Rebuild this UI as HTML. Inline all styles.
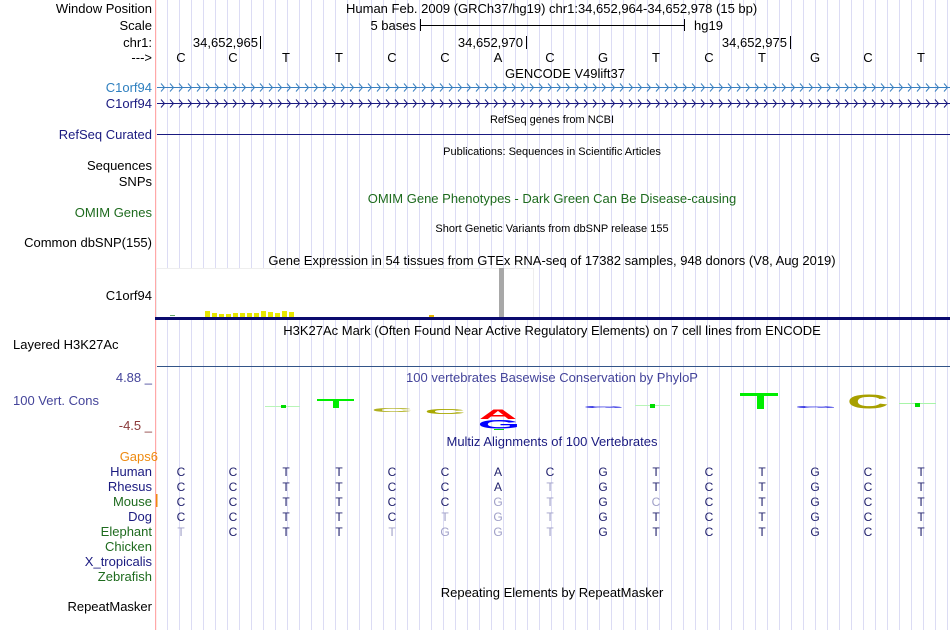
<!DOCTYPE html>
<html><head><meta charset="utf-8"><style>
html,body{margin:0;padding:0;background:#fff;}
svg{display:block;}
text{font-family:"Liberation Sans",Arial,sans-serif;}
</style></head><body>
<svg width="950" height="630" viewBox="0 0 950 630" xmlns="http://www.w3.org/2000/svg">
<defs>
<pattern id="grid" x="167" y="0" width="12" height="630" patternUnits="userSpaceOnUse">
<rect x="0" y="0" width="1" height="630" fill="#dcdcf4"/>
</pattern>
<pattern id="chevA" x="158" y="83" width="9" height="9" patternUnits="userSpaceOnUse">
<path d="M3,0.5 L6.5,4.5 L3,8.5" fill="none" stroke="#3a80c0" stroke-width="1"/>
</pattern>
<pattern id="chevB" x="158" y="99" width="9" height="9" patternUnits="userSpaceOnUse">
<path d="M3,0.5 L6.5,4.5 L3,8.5" fill="none" stroke="#1a1a80" stroke-width="1"/>
</pattern>
</defs>
<rect width="950" height="630" fill="#fff"/>
<rect x="160" y="0" width="790" height="630" fill="url(#grid)"/>
<rect x="155" y="0" width="1.2" height="630" fill="#ffa8a8"/>

<!-- header -->
<g font-size="13" fill="#000">
<text x="152" y="13" text-anchor="end">Window Position</text>
<text x="152" y="30" text-anchor="end">Scale</text>
<text x="152" y="47" text-anchor="end">chr1:</text>
<text x="152" y="62" text-anchor="end">---&gt;</text>
<text x="346" y="13">Human Feb. 2009 (GRCh37/hg19)   chr1:34,652,964-34,652,978 (15 bp)</text>
<text x="416" y="30" text-anchor="end">5 bases</text>
<text x="694" y="30">hg19</text>
<text x="258" y="47" text-anchor="end">34,652,965</text>
<text x="523" y="47" text-anchor="end">34,652,970</text>
<text x="787" y="47" text-anchor="end">34,652,975</text>
</g>
<rect x="420" y="25" width="264" height="1" fill="#000"/>
<rect x="420" y="19" width="1" height="12" fill="#000"/>
<rect x="684" y="19" width="1" height="12" fill="#000"/>
<rect x="260" y="36" width="1" height="13" fill="#000"/>
<rect x="526" y="36" width="1" height="13" fill="#000"/>
<rect x="790" y="36" width="1" height="13" fill="#000"/>
<g font-size="13" fill="#000" text-anchor="middle">
<text x="181" y="62">C</text><text x="233" y="62">C</text><text x="286" y="62">T</text><text x="339" y="62">T</text><text x="392" y="62">C</text><text x="445" y="62">C</text><text x="498" y="62">A</text><text x="550" y="62">C</text><text x="603" y="62">G</text><text x="656" y="62">T</text><text x="709" y="62">C</text><text x="762" y="62">T</text><text x="815" y="62">G</text><text x="868" y="62">C</text><text x="921" y="62">T</text>
</g>
<text x="565" y="78" font-size="13" text-anchor="middle">GENCODE V49lift37</text>

<!-- genes -->
<text x="152" y="92" font-size="13" text-anchor="end" fill="#2e7fbf">C1orf94</text>
<text x="152" y="108" font-size="13" text-anchor="end" fill="#1a1a80">C1orf94</text>
<rect x="157" y="87" width="793" height="1" fill="#3a80c0"/>
<rect x="157" y="83" width="793" height="9" fill="url(#chevA)"/>
<rect x="157" y="103" width="793" height="1" fill="#1a1a80"/>
<rect x="157" y="99" width="793" height="9" fill="url(#chevB)"/>

<text x="552" y="123" font-size="11" text-anchor="middle">RefSeq genes from NCBI</text>
<text x="152" y="139" font-size="13" text-anchor="end" fill="#1a1a80">RefSeq Curated</text>
<rect x="157" y="134" width="793" height="1" fill="#1a1a80"/>

<text x="552" y="155" font-size="11" text-anchor="middle">Publications: Sequences in Scientific Articles</text>
<text x="152" y="170" font-size="13" text-anchor="end">Sequences</text>
<text x="152" y="186" font-size="13" text-anchor="end">SNPs</text>
<text x="552" y="203" font-size="13" text-anchor="middle" fill="#1e6b1e">OMIM Gene Phenotypes - Dark Green Can Be Disease-causing</text>
<text x="152" y="217" font-size="13" text-anchor="end" fill="#1e6b1e">OMIM Genes</text>
<text x="552" y="232" font-size="11" text-anchor="middle">Short Genetic Variants from dbSNP release 155</text>
<text x="152" y="247" font-size="13" text-anchor="end">Common dbSNP(155)</text>

<!-- GTEx -->
<text x="552" y="265" font-size="13" text-anchor="middle">Gene Expression in 54 tissues from GTEx RNA-seq of 17382 samples, 948 donors (V8, Aug 2019)</text>
<rect x="156.5" y="268.5" width="377" height="49" fill="#fff" stroke="#eeeeee"/>
<text x="152" y="300" font-size="13" text-anchor="end">C1orf94</text>
<rect x="170" y="315" width="5" height="1" fill="#6aa86a"/>
<g fill="#e6e600">
<rect x="205" y="311" width="5" height="6"/><rect x="212" y="313" width="5" height="4"/><rect x="219" y="314" width="5" height="3"/><rect x="226" y="314" width="5" height="3"/><rect x="233" y="313" width="5" height="4"/><rect x="240" y="313" width="5" height="4"/><rect x="247" y="313" width="5" height="4"/><rect x="254" y="313" width="5" height="4"/><rect x="261" y="311" width="5" height="6"/><rect x="268" y="312" width="5" height="5"/><rect x="275" y="313" width="5" height="4"/><rect x="282" y="311" width="5" height="6"/><rect x="289" y="312" width="5" height="5"/>
</g>
<rect x="429" y="315" width="5" height="2" fill="#e6b800"/>
<rect x="499" y="268" width="5" height="49" fill="#a8a8a8"/>
<rect x="155" y="317" width="795" height="3" fill="#0a0a6e"/>

<!-- H3K27Ac -->
<text x="552" y="335" font-size="13" text-anchor="middle">H3K27Ac Mark (Often Found Near Active Regulatory Elements) on 7 cell lines from ENCODE</text>
<text x="13" y="349" font-size="13">Layered H3K27Ac</text>
<rect x="157" y="366" width="793" height="1" fill="#335588"/>

<!-- Conservation -->
<text x="552" y="382" font-size="13" text-anchor="middle" fill="#44449a">100 vertebrates Basewise Conservation by PhyloP</text>
<text x="152" y="382" font-size="13" text-anchor="end" fill="#44449a">4.88 _</text>
<text x="13" y="405" font-size="13" fill="#44449a">100 Vert. Cons</text>
<text x="152" y="430" font-size="13" text-anchor="end" fill="#8b3a3a">-4.5 _</text>

<rect x="265" y="406" width="35" height="1" fill="#b8f5b8"/><rect x="281" y="405" width="5" height="3" fill="#00dd00"/>
<rect x="317" y="399" width="37" height="2" fill="#00ee00"/><rect x="333" y="400" width="6" height="8" fill="#00ee00"/>
<text transform="translate(392,412) scale(2.85,0.28)" font-size="20" font-weight="bold" fill="#b0b020" text-anchor="middle">C</text>
<text transform="translate(445,414) scale(2.85,0.36)" font-size="20" font-weight="bold" fill="#a8a800" text-anchor="middle">C</text>
<text transform="translate(498,419) scale(2.65,0.7)" font-size="20" font-weight="bold" fill="#ff0000" text-anchor="middle">A</text>
<text transform="translate(499,428.5) scale(2.75,0.62)" font-size="20" font-weight="bold" fill="#0000ff" text-anchor="middle">G</text>
<rect x="494" y="429" width="10" height="1" fill="#00dd00"/>
<text transform="translate(604,408) scale(2.7,0.14)" font-size="20" font-weight="bold" fill="#2020e0" text-anchor="middle">G</text>
<rect x="635" y="405" width="35" height="1" fill="#b8f5b8"/><rect x="650" y="404" width="5" height="4" fill="#00dd00"/>
<rect x="740" y="393" width="38" height="3" fill="#00ee00"/><rect x="757" y="396" width="7" height="13" fill="#00ee00"/>
<text transform="translate(816,408) scale(2.75,0.14)" font-size="20" font-weight="bold" fill="#2020e0" text-anchor="middle">G</text>
<text transform="translate(868,408.5) scale(2.9,1.03)" font-size="20" font-weight="bold" fill="#a8a000" text-anchor="middle">C</text>
<rect x="899" y="403" width="37" height="1" fill="#a8f5a8"/><rect x="915" y="403" width="5" height="4" fill="#00dd00"/>

<!-- Multiz -->
<text x="552" y="446" font-size="13" text-anchor="middle" fill="#1a1a80">Multiz Alignments of 100 Vertebrates</text>
<text x="158" y="461" font-size="13" text-anchor="end" fill="#ee8a10">Gaps6</text>
<g font-size="13" text-anchor="end">
<text x="152" y="476" fill="#1a1a80">Human</text>
<text x="152" y="491" fill="#1a1a80">Rhesus</text>
<text x="152" y="506" fill="#1e6b1e">Mouse</text>
<text x="152" y="521" fill="#1a1a80">Dog</text>
<text x="152" y="536" fill="#1e6b1e">Elephant</text>
<text x="152" y="551" fill="#1e6b1e">Chicken</text>
<text x="152" y="566" fill="#1a1a80">X_tropicalis</text>
<text x="152" y="581" fill="#1e6b1e">Zebrafish</text>
<text x="152" y="611" fill="#000">RepeatMasker</text>
</g>
<rect x="156" y="494" width="1.5" height="13" fill="#ee8a10"/>
<g font-size="12" text-anchor="middle" fill="#22226e">
<text x="181" y="476">C</text><text x="233" y="476">C</text><text x="286" y="476">T</text><text x="339" y="476">T</text><text x="392" y="476">C</text><text x="445" y="476">C</text><text x="498" y="476">A</text><text x="550" y="476">C</text><text x="603" y="476">G</text><text x="656" y="476">T</text><text x="709" y="476">C</text><text x="762" y="476">T</text><text x="815" y="476">G</text><text x="868" y="476">C</text><text x="921" y="476">T</text>

<text x="181" y="491">C</text><text x="233" y="491">C</text><text x="286" y="491">T</text><text x="339" y="491">T</text><text x="392" y="491">C</text><text x="445" y="491">C</text><text x="498" y="491">A</text><text x="550" y="491" fill="#a0a0c8">T</text><text x="603" y="491">G</text><text x="656" y="491">T</text><text x="709" y="491">C</text><text x="762" y="491">T</text><text x="815" y="491">G</text><text x="868" y="491">C</text><text x="921" y="491">T</text>

<text x="181" y="506">C</text><text x="233" y="506">C</text><text x="286" y="506">T</text><text x="339" y="506">T</text><text x="392" y="506">C</text><text x="445" y="506">C</text><text x="498" y="506" fill="#a0a0c8">G</text><text x="550" y="506" fill="#a0a0c8">T</text><text x="603" y="506">G</text><text x="656" y="506" fill="#a0a0c8">C</text><text x="709" y="506">C</text><text x="762" y="506">T</text><text x="815" y="506">G</text><text x="868" y="506">C</text><text x="921" y="506">T</text>

<text x="181" y="521">C</text><text x="233" y="521">C</text><text x="286" y="521">T</text><text x="339" y="521">T</text><text x="392" y="521">C</text><text x="445" y="521" fill="#a0a0c8">T</text><text x="498" y="521" fill="#a0a0c8">G</text><text x="550" y="521" fill="#a0a0c8">T</text><text x="603" y="521">G</text><text x="656" y="521">T</text><text x="709" y="521">C</text><text x="762" y="521">T</text><text x="815" y="521">G</text><text x="868" y="521">C</text><text x="921" y="521">T</text>

<text x="181" y="536" fill="#a0a0c8">T</text><text x="233" y="536">C</text><text x="286" y="536">T</text><text x="339" y="536">T</text><text x="392" y="536" fill="#a0a0c8">T</text><text x="445" y="536" fill="#a0a0c8">G</text><text x="498" y="536" fill="#a0a0c8">G</text><text x="550" y="536" fill="#a0a0c8">T</text><text x="603" y="536">G</text><text x="656" y="536">T</text><text x="709" y="536">C</text><text x="762" y="536">T</text><text x="815" y="536">G</text><text x="868" y="536">C</text><text x="921" y="536">T</text>
</g>

<text x="552" y="597" font-size="13" text-anchor="middle">Repeating Elements by RepeatMasker</text>
</svg>
</body></html>
